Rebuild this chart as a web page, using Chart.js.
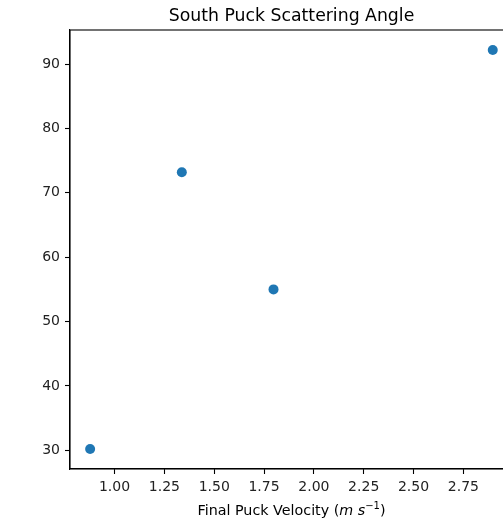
<!DOCTYPE html>
<html>
<head>
<meta charset="utf-8">
<script src="https://cdn.jsdelivr.net/npm/chart.js@4/dist/chart.umd.min.js"></script>
<style>
  html, body { margin: 0; padding: 0; width: 503px; height: 522px; overflow: hidden; background: #fff; }
  #wrap { width: 583px; height: 522px; }
</style>
</head>
<body>
<div id="wrap"><canvas id="c" width="583" height="522"></canvas></div>
<script>
const velocity = [0.8775, 1.3375, 1.7975, 2.8975];
const angle = [30.2, 73.2, 55.0, 92.2];
const xTicks = [1.00, 1.25, 1.50, 1.75, 2.00, 2.25, 2.50, 2.75];
const yTicks = [30, 40, 50, 60, 70, 80, 90];
const titleText = 'South Puck Scattering Angle';

const FONT = "'DejaVu Sans', sans-serif";

const frame = {
  id: 'frame',
  afterDraw(chart) {
    const ctx = chart.ctx, a = chart.chartArea;
    ctx.save();
    ctx.strokeStyle = '#000';
    ctx.lineWidth = 1.1;
    ctx.strokeRect(a.left, a.top, a.right - a.left, a.bottom - a.top);
    // title
    const cx = (a.left + a.right) / 2;
    ctx.fillStyle = '#000';
    ctx.textAlign = 'center';
    ctx.textBaseline = 'alphabetic';
    ctx.font = "17.3px " + FONT;
    ctx.fillText(titleText, cx, 21);
    // x label with italic units and superscript
    const parts = [
      { t: 'Final Puck Velocity (', f: "14.3px " + FONT, dy: 0 },
      { t: 'm', f: "italic 14.3px " + FONT, dy: 0 },
      { t: ' ', f: "14.3px " + FONT, dy: 0 },
      { t: 's', f: "italic 14.3px " + FONT, dy: 0 },
      { t: '\u22121', f: "10px " + FONT, dy: -6 },
      { t: ')', f: "14.3px " + FONT, dy: 0 }
    ];
    let total = 0;
    parts.forEach(p => { ctx.font = p.f; p.w = ctx.measureText(p.t).width; total += p.w; });
    let x = cx - total / 2;
    ctx.textAlign = 'left';
    parts.forEach(p => { ctx.font = p.f; ctx.fillText(p.t, x, 515 + p.dy); x += p.w; });
    ctx.restore();
  }
};

new Chart(document.getElementById('c'), {
  type: 'scatter',
  data: {
    datasets: [{
      data: velocity.map((v, i) => ({ x: v, y: angle[i] })),
      backgroundColor: '#1f77b4',
      borderColor: '#1f77b4',
      pointRadius: 5,
      pointHoverRadius: 5,
      borderWidth: 0
    }]
  },
  options: {
    responsive: false,
    animation: false,
    layout: { padding: { left: 0, top: 30, right: 70, bottom: 0 } },
    plugins: { legend: { display: false }, title: { display: false }, tooltip: { enabled: false } },
    scales: {
      x: {
        type: 'linear',
        min: 0.7765,
        max: 2.999,
        afterFit(s) { s.height = 53; },
        afterBuildTicks(s) { s.ticks = xTicks.map(v => ({ value: v })); },
        grid: { drawOnChartArea: false, drawTicks: true, tickLength: 5, tickColor: '#000', tickWidth: 1.1 },
        border: { display: true, color: '#000', width: 1.1 },
        ticks: {
          color: '#222', padding: 5, maxRotation: 0, autoSkip: false,
          font: { family: FONT, size: 14 },
          callback: v => Number(v).toFixed(2)
        }
      },
      y: {
        type: 'linear',
        min: 27.1,
        max: 95.3,
        afterFit(s) { s.width = 70; },
        afterBuildTicks(s) { s.ticks = yTicks.map(v => ({ value: v })); },
        grid: { drawOnChartArea: false, drawTicks: true, tickLength: 5, tickColor: '#000', tickWidth: 1.1 },
        border: { display: true, color: '#000', width: 1.1 },
        ticks: {
          color: '#222', padding: 5, autoSkip: false,
          font: { family: FONT, size: 14 },
          callback: v => String(v)
        }
      }
    }
  },
  plugins: [frame]
});
</script>
</body>
</html>
